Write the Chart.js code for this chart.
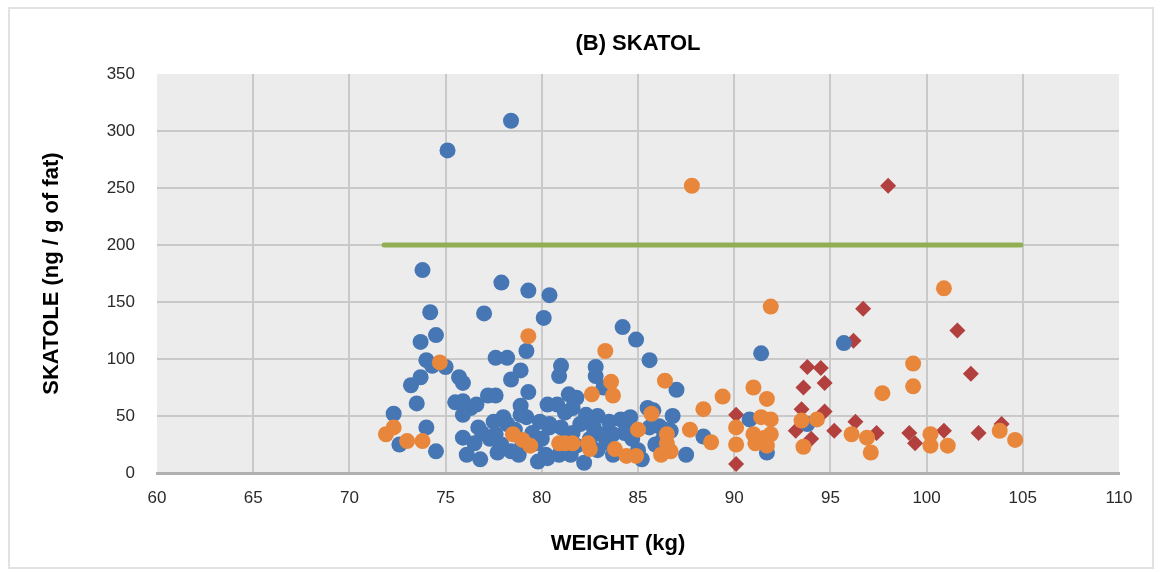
<!DOCTYPE html>
<html>
<head>
<meta charset="utf-8">
<script src="https://cdn.jsdelivr.net/npm/chart.js@4.4.1/dist/chart.umd.min.js"></script>
<style>
  html, body { margin: 0; padding: 0; background: #ffffff; }
  #wrap { position: relative; width: 1160px; height: 572px; }
  #frame { position: absolute; left: 8px; top: 7px; width: 1142px; height: 558px; border: 2px solid #e2e2e2; pointer-events: none; }
  canvas { position: absolute; left: 0; top: 0; }
</style>
</head>
<body>
<div id="wrap">
  <canvas id="c" width="1160" height="572"></canvas>
  <div id="frame"></div>
</div>
<script>
// ---- data ----
const chartTitle = '(B) SKATOL';
const xTitle = 'WEIGHT (kg)';
const yTitle = 'SKATOLE (ng / g of fat)';
const xTicks = [60, 65, 70, 75, 80, 85, 90, 95, 100, 105, 110];
const yTicks = [0, 50, 100, 150, 200, 250, 300, 350];

const blueX = [75.1, 78.4, 73.8, 77.9, 79.3, 80.4, 74.2, 77.0, 80.1, 74.5, 73.7, 79.2, 77.6, 78.2, 74.0, 75.0, 74.3, 78.9, 75.7, 75.9,
  73.7, 73.2, 78.4, 79.3, 77.2, 77.6, 73.5, 75.5, 75.9, 76.6, 76.3, 75.9, 78.9, 79.2, 78.9, 78.0, 80.3, 72.3, 74.0, 72.6,
  74.5, 75.9, 76.7, 76.5, 76.1, 76.8, 77.6, 77.9, 77.7, 78.2, 78.4, 78.8, 79.7, 79.8, 80.4, 80.2,
  84.2, 84.9, 85.6, 81.0, 80.9, 82.8, 82.8, 87.0, 83.2, 81.4, 80.8, 81.8, 81.6, 82.3, 82.9, 81.2, 80.4, 82.0, 82.7, 83.1,
  81.0, 82.2, 80.3, 81.5, 80.9, 83.7, 84.1, 84.6, 85.5, 86.8, 84.3, 85.6, 86.1, 86.7, 83.7, 85.2, 87.5, 88.4,
  95.7, 91.4, 90.8, 91.7, 93.8,
  77.3, 78.6, 79.0, 79.5, 80.0, 81.3, 81.8, 82.5, 83.4, 84.7, 85.9, 86.3, 85.0, 76.9, 77.5, 79.9, 81.6, 82.9, 83.5, 84.4, 85.8, 86.4];
const blueY = [283, 309, 178, 167, 160, 156, 141, 140, 136, 121, 115, 107, 101, 101, 99, 93, 94, 90, 84, 79,
  84, 77, 82, 71, 68, 68, 61, 62, 63, 60, 57, 51, 59, 49, 51, 49, 60, 52, 40, 25,
  19, 31, 40, 26, 16, 12, 34, 25, 18, 43, 19, 16, 26, 10, 40, 16,
  128, 117, 99, 94, 85, 93, 85, 73, 75, 69, 60, 66, 57, 51, 50, 53, 43, 43, 40, 34,
  40, 9, 13, 16, 16, 34, 47, 49, 57, 50, 35, 40, 41, 37, 16, 12, 16, 32,
  114, 105, 47, 18, 43,
  30, 38, 27, 35, 30, 30, 24, 30, 27, 30, 25, 30, 20, 35, 45, 45, 35, 20, 45, 40, 55, 38];

const orangeX = [87.8, 79.3, 74.7, 71.9, 72.3, 73.0, 73.8, 78.5, 79.0, 79.4, 80.9,
  83.3, 83.6, 83.7, 86.4, 82.6, 89.4, 88.4, 81.2, 81.6, 82.4, 82.5, 85.7, 85.0, 86.5, 86.5, 86.7, 86.2, 83.8, 84.4, 84.9, 87.7, 88.8, 90.1, 90.1,
  91.9, 91.0, 91.7, 97.7, 99.3, 99.3, 91.4, 91.9, 91.0, 91.1, 91.6, 91.9, 91.7, 93.5, 94.3, 93.6, 96.1, 96.9, 97.1,
  100.9, 100.2, 100.2, 101.1, 103.8, 104.6];
const orangeY = [252, 120, 97, 34, 40, 28, 28, 34, 29, 24, 26,
  107, 80, 68, 81, 69, 67, 56, 26, 26, 26, 21, 52, 38, 34, 26, 19, 16, 21, 15, 15, 38, 27, 40, 25,
  146, 75, 65, 70, 96, 76, 49, 47, 34, 26, 31, 34, 24, 46, 47, 23, 34, 31, 18,
  162, 34, 24, 24, 37, 29];

const redX = [98.0, 90.1, 90.1, 96.7, 96.2, 93.8, 94.5, 94.7, 93.6, 93.5, 94.7, 93.2, 94.0, 95.2, 96.3, 97.4, 99.1, 99.4,
  101.6, 102.3, 100.9, 102.7, 103.9];
const redY = [252, 51, 8, 144, 116, 93, 92, 79, 75, 56, 54, 37, 30, 37, 45, 35, 35, 26,
  125, 87, 37, 35, 43];

const limitX = [71.8, 104.9];
const limitY = [200, 200];

// ---- helpers ----
const pts = (xs, ys) => xs.map((x, i) => ({ x: x, y: ys[i] }));
const boldFont = 'bold 22px "Liberation Sans", Arial, sans-serif';

const plotBg = {
  id: 'plotBg',
  beforeDraw(chart) {
    const { ctx, chartArea: a } = chart;
    ctx.save();
    ctx.fillStyle = '#ececec';
    ctx.fillRect(a.left, a.top, a.right - a.left, a.bottom - a.top);
    ctx.restore();
  }
};

const titles = {
  id: 'titles',
  afterDraw(chart) {
    const { ctx, chartArea: a } = chart;
    ctx.save();
    ctx.font = boldFont;
    ctx.fillStyle = '#000000';
    ctx.textAlign = 'center';
    ctx.textBaseline = 'middle';
    ctx.fillText(chartTitle, (a.left + a.right) / 2, 44);
    ctx.fillText(xTitle, 618, 544);
    ctx.restore();
  }
};

const edgeHidden = (minV, maxV, color) => (c) => {
  if (c.tick && (c.tick.value === minV || c.tick.value === maxV)) return 'rgba(0,0,0,0)';
  return color;
};

new Chart(document.getElementById('c'), {
  type: 'scatter',
  data: {
    datasets: [
      { label: 'orange', data: pts(orangeX, orangeY), backgroundColor: '#e8873b', borderWidth: 0, pointRadius: 8, pointHoverRadius: 8, pointStyle: 'circle' },
      { label: 'blue', data: pts(blueX, blueY), backgroundColor: '#4676b3', borderWidth: 0, pointRadius: 8, pointHoverRadius: 8, pointStyle: 'circle' },
      { label: 'red', data: pts(redX, redY), backgroundColor: '#b2403e', borderWidth: 0, pointRadius: 8, pointHoverRadius: 8, pointStyle: 'rectRot' },
      { type: 'line', label: 'limit', data: pts(limitX, limitY), borderColor: '#92ae52', borderWidth: 5, borderCapStyle: 'round', pointRadius: 0, showLine: true, fill: false }
    ]
  },
  options: {
    responsive: false,
    animation: false,
    devicePixelRatio: 1,
    layout: { padding: { left: 0, right: 41, top: 74, bottom: 0 } },
    plugins: {
      legend: { display: false },
      tooltip: { enabled: false },
      title: { display: false }
    },
    scales: {
      x: {
        type: 'linear',
        min: xTicks[0],
        max: xTicks[xTicks.length - 1],
        afterBuildTicks: (s) => { s.ticks = xTicks.map(v => ({ value: v })); },
        afterFit: (s) => { s.height = 99; },
        ticks: { color: '#2a2a2a', padding: 15, font: { family: '"Liberation Sans", Arial, sans-serif', size: 17 } },
        grid: { color: edgeHidden(60, 110, '#c9c9c9'), lineWidth: 2, drawTicks: false },
        border: { display: true, color: '#b0b0b0', width: 3 }
      },
      y: {
        type: 'linear',
        min: yTicks[0],
        max: yTicks[yTicks.length - 1],
        afterBuildTicks: (s) => { s.ticks = yTicks.map(v => ({ value: v })); },
        afterFit: (s) => { s.width = 157; },
        ticks: { color: '#2a2a2a', padding: 22, font: { family: '"Liberation Sans", Arial, sans-serif', size: 17 } },
        grid: { color: edgeHidden(0, 350, '#c9c9c9'), lineWidth: 2, drawTicks: false },
        border: { display: false },
        title: {
          display: true,
          text: yTitle,
          color: '#000000',
          font: { family: '"Liberation Sans", Arial, sans-serif', size: 22, weight: 'bold' },
          padding: { top: 39, bottom: 0 }
        }
      }
    }
  },
  plugins: [plotBg, titles]
});
</script>
</body>
</html>
